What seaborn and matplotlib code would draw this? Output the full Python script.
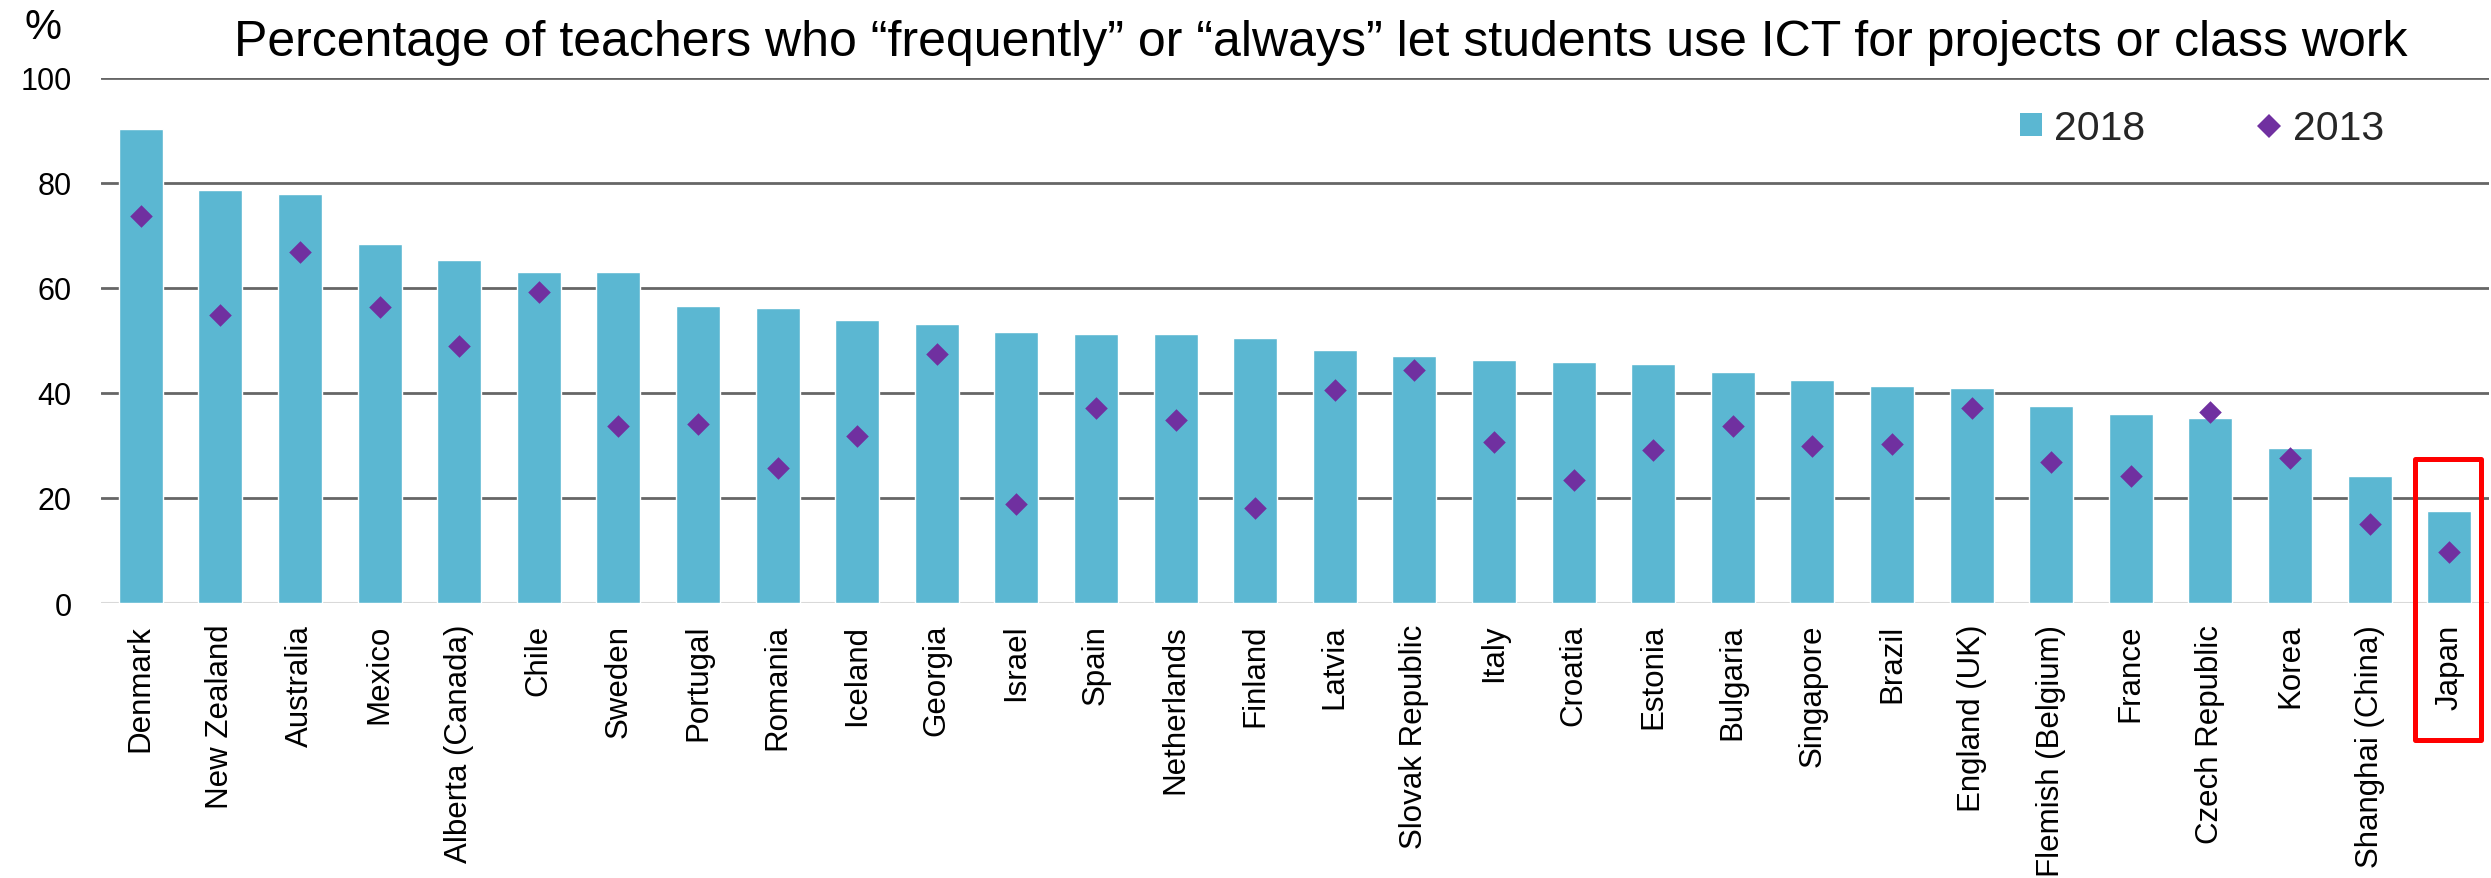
import matplotlib
matplotlib.use("Agg")
import matplotlib.pyplot as plt
import matplotlib.patches as mpatches
import matplotlib.transforms as mtransforms
from matplotlib.lines import Line2D
import seaborn as sns
import pandas as pd

countries = [
    "Denmark", "New Zealand", "Australia", "Mexico", "Alberta (Canada)", "Chile",
    "Sweden", "Portugal", "Romania", "Iceland", "Georgia", "Israel", "Spain",
    "Netherlands", "Finland", "Latvia", "Slovak Republic", "Italy", "Croatia",
    "Estonia", "Bulgaria", "Singapore", "Brazil", "England (UK)", "Flemish (Belgium)",
    "France", "Czech Republic", "Korea", "Shanghai (China)", "Japan",
]
values_2018 = [
    90.2, 78.7, 77.9, 68.4, 65.3, 63.1, 63.1, 56.6, 56.2, 53.9, 53.2, 51.6, 51.2,
    51.2, 50.5, 48.2, 47.1, 46.3, 45.9, 45.5, 44.0, 42.4, 41.3, 40.9, 37.5,
    36.0, 35.2, 29.5, 24.1, 17.6,
]
values_2013 = [
    73.8, 54.8, 66.9, 56.3, 49.0, 59.3, 33.8, 34.1, 25.7, 31.8, 47.4, 18.8, 37.2,
    34.9, 18.1, 40.6, 44.4, 30.7, 23.4, 29.2, 33.8, 29.9, 30.3, 37.2, 26.9,
    24.2, 36.4, 27.6, 15.0, 9.7,
]
y_ticks = [0, 20, 40, 60, 80, 100]
highlight = "Japan"
title = ("Percentage of teachers who \u201cfrequently\u201d or \u201calways\u201d "
         "let students use ICT for projects or class work")

bar_color = "#5bb7d2"
dot_color = "#7030a0"

df = pd.DataFrame({"country": countries, "y2018": values_2018, "y2013": values_2013})

sns.set_theme(style="white")
plt.rcParams["font.family"] = ["Liberation Sans", "DejaVu Sans"]

W, H = 2491, 879
fig = plt.figure(figsize=(W / 100, H / 100), dpi=100)
ax = fig.add_axes([101 / W, 1 - 604 / H, (2489 - 101) / W, 525 / H])

sns.barplot(data=df, x="country", y="y2018", color=bar_color, width=0.553,
            saturation=1, ax=ax, zorder=2)
sns.stripplot(data=df, x="country", y="y2013", color=dot_color, marker="D",
              size=11.5, jitter=False, linewidth=0, ax=ax, zorder=3)

ax.set_xlim(-0.5, len(countries) - 0.5)
ax.set_ylim(0, 100)
ax.set_yticks(y_ticks)
ax.set_xlabel("")
ax.set_ylabel("")
for s in ax.spines.values():
    s.set_visible(False)

ax.set_axisbelow(True)
ax.yaxis.grid(True, color="#666666", linewidth=2.0)
ax.xaxis.grid(False)
ax.get_ygridlines()[0].set_color("#d9d9d9")
ax.get_ygridlines()[0].set_linewidth(2.2)

ax.tick_params(axis="y", length=0, pad=21, labelsize=22, labelcolor="black")
ax.tick_params(axis="x", length=0, pad=15, labelsize=22.5, labelcolor="black",
               labelrotation=90)

# title and unit label
fig.text(1321 / W, 1 - 56 / H, title, ha="center", va="baseline",
         fontsize=36, color="black")
fig.text(25 / W, 1 - 39 / H, "%", ha="left", va="baseline",
         fontsize=30, color="black")

# legend
handles = [
    mpatches.Patch(facecolor=bar_color, edgecolor="none", label="2018"),
    Line2D([], [], linestyle="none", marker="D", markersize=12.3,
           markerfacecolor=dot_color, markeredgewidth=0, label="2013"),
]
fig.legend(handles=handles, loc="center left", bbox_to_anchor=(2020 / W, 1 - 129 / H),
           ncol=2, frameon=False, fontsize=29.5, handlelength=0.54, handleheight=0.51,
           handletextpad=0.3, columnspacing=2.75, borderpad=0, borderaxespad=0)

# red box around the highlighted country
idx = countries.index(highlight)
trans = mtransforms.blended_transform_factory(ax.transData, ax.transAxes)
box = mpatches.Rectangle((idx - 0.43, -0.26), 0.83, 0.535, transform=trans,
                         fill=False, edgecolor="#ff0000", linewidth=3.6,
                         joinstyle="round", clip_on=False, zorder=5)
ax.add_patch(box)

fig.savefig("out.png", dpi=100)
